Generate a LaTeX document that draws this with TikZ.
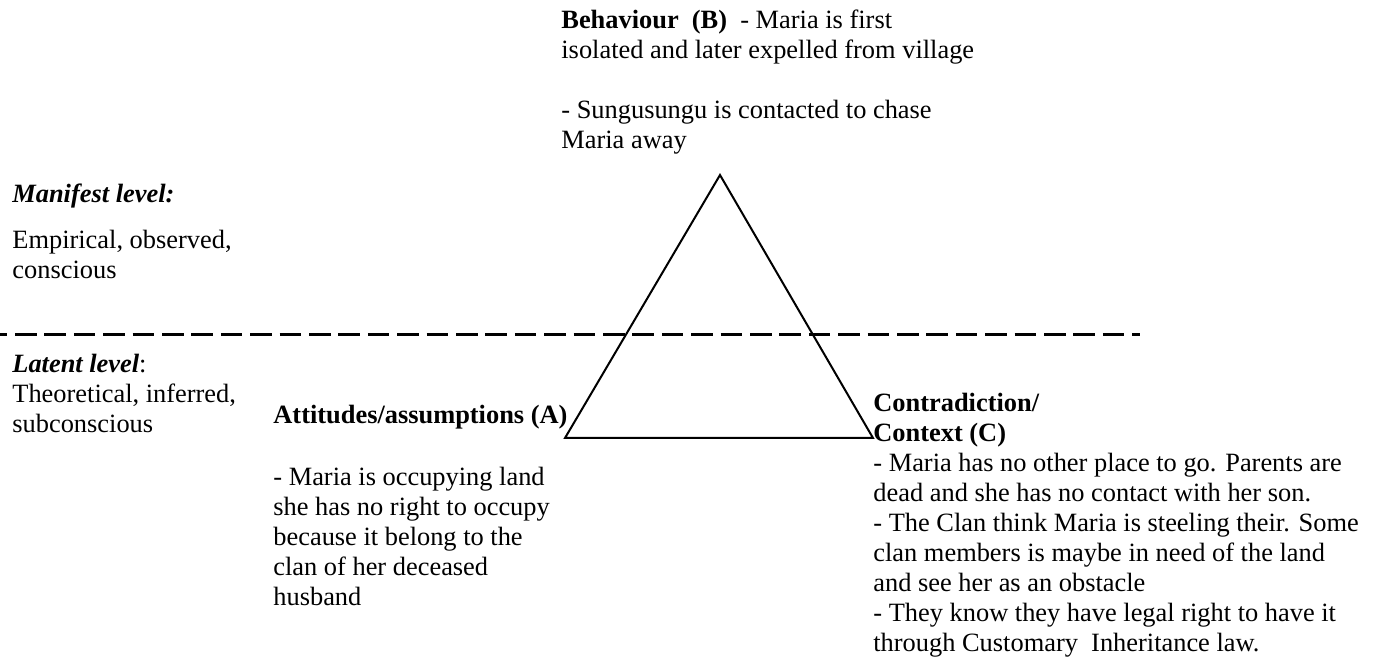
\documentclass[tikz,border=0pt]{standalone}
\usepackage{fontspec}
\setmainfont{Liberation Serif}
\usetikzlibrary{positioning}

\begin{document}
\begin{tikzpicture}[
      x=0.5pt,y=-0.5pt,
      txt/.style={
         anchor=base west,
         inner sep=0pt,
         align=left,
         font=\fontsize{13.2}{15}\selectfont
      },
      side/.style={line width=1pt,line join=miter},
      level/.style={line width=1.5pt,dash pattern=on 10.75pt off 3.95pt,dash phase=7.2pt},
      point/.style={coordinate}
    ]
    \useasboundingbox (0,0) rectangle (1376,662);
    % the level line
    \node (d1) [point] at (0,335) {};
    \node (d2) [point] at (1140,335) {};
    \draw[level] (d1) -- (d2);
    % the triangle
    \node (tb) [point] at (720,175) {};
    \node (ta) [point] at (565,438) {};
    \node (tc) [point] at (873,438) {};
    \draw[side] (tb) -- (ta) -- (tc) -- cycle;
    % left column (placed at the baseline of the last line)
    \node (man) [txt] at (12,203) {\textbf{\textit{Manifest level:}}};
    \node (emp) [txt] at (12,279) {Empirical, observed,\\conscious};
    \node (lat) [txt] at (12,433) {\textbf{\textit{Latent level}}:\\Theoretical, inferred,\\subconscious};
    % corners
    \node (beh) [txt] at (561,149) {\textbf{Behaviour\ \ (B)}\ \ - Maria is first\\isolated and later expelled from village\\[15pt]- Sungusungu is contacted to chase\\Maria away};
    \node (att) [txt] at (273,424) {\textbf{Attitudes/assumptions (A)}};
    \node (atb) [txt] at (273,605) {- Maria is occupying land\\she has no right to occupy\\because it belong to the\\clan of her deceased\\husband};
    \node (con) [txt] at (873,651) {\textbf{Contradiction/}\\\textbf{Context (C)}\\- Maria has no other place to go. Parents are\\dead and she has no contact with her son.\\- The Clan think Maria is steeling their. Some\\clan members is maybe in need of the land\\and see her as an obstacle\\- They know they have legal right to have it\\through Customary\ \ Inheritance law.};
\end{tikzpicture}
\end{document}
